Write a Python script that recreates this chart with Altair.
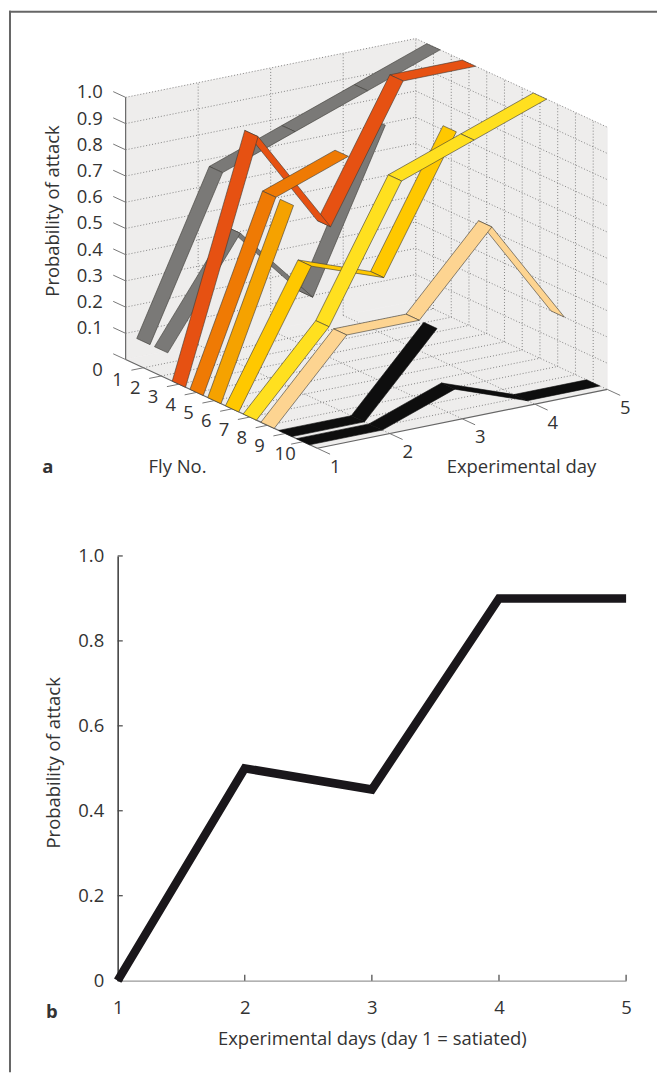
import altair as alt
import pandas as pd

# ---------- data ----------
fly_numbers = [1, 2, 3, 4, 5, 6, 7, 8, 9, 10]
days = [1, 2, 3, 4, 5]
fly_1 = [0.1, 0.7, 0.8, 0.9, 1.0]
fly_2 = [0.1, 0.5, 0.2, 0.8]
fly_3 = [0.0, 0.9, 0.5, 1.0, 1.0]
fly_4 = [0.0, 0.7, 0.8]
fly_5 = [0.0, 0.7]
fly_6 = [0.0, 0.5, 0.4, 0.9]
fly_7 = [0.0, 0.3, 0.8, 0.9, 1.0]
fly_8 = [0.0, 0.3, 0.3, 0.6, 0.2]
fly_9 = [0.0, 0.0, 0.3]
fly_10 = [0.0, 0.0, 0.1, 0.0, 0.0]
mean_attack = [0.0, 0.5, 0.45, 0.9, 0.9]
z_ticks = [0.0, 0.1, 0.2, 0.3, 0.4, 0.5, 0.6, 0.7, 0.8, 0.9, 1.0]
b_y_ticks = [0.0, 0.2, 0.4, 0.6, 0.8, 1.0]
series = [fly_1, fly_2, fly_3, fly_4, fly_5, fly_6, fly_7, fly_8, fly_9, fly_10]
colors = ["#7a7977", "#7a7977", "#e65112", "#ef7a04", "#f5a200", "#ffc800",
          "#ffe01f", "#fdd491", "#0e0e0e", "#0e0e0e"]
FONT = "Open Sans"
SIZE = 18.5
INK = "#333333"
FMAX = 10.8
RIBBON = 0.75


# orthographic projection of (fly, day, probability) to page position
def pt(f, d, z):
    return (125 + 17.8 * f + 72.75 * (d - 1), 358 + 8.24 * f - 14.75 * (d - 1) - 263 * z)


def poly(rows, pid, corners):
    for i, c in enumerate(list(corners) + [corners[0]]):
        x, y = pt(*c)
        rows.append({"x": x, "y": y, "pid": pid, "i": i})


X = alt.X("x:Q", scale=alt.Scale(domain=[8, 658], nice=False, zero=False), axis=None)
Y = alt.Y("y:Q", scale=alt.Scale(domain=[538, 8], nice=False, zero=False), axis=None)


def shapes(rows, **mark):
    return alt.Chart(pd.DataFrame(rows)).mark_line(**mark).encode(
        x=X, y=Y, detail="pid:N", order="i:Q")


# walls and floor
wall_rows = []
poly(wall_rows, "left", [(0, 1, 0), (0, 5, 0), (0, 5, 1), (0, 1, 1)])
poly(wall_rows, "right", [(0, 5, 0), (FMAX, 5, 0), (FMAX, 5, 1), (0, 5, 1)])
poly(wall_rows, "floor", [(0, 1, 0), (FMAX, 1, 0), (FMAX, 5, 0), (0, 5, 0)])
walls = shapes(wall_rows, fill="#eeedec", stroke="#eeedec", strokeWidth=0.5)

# dotted grid
grid_rows = []


def seg(rows, pid, a, b):
    for i, c in enumerate((a, b)):
        x, y = pt(*c)
        rows.append({"x": x, "y": y, "pid": pid, "i": i})


for z in z_ticks:
    if z > 0:
        seg(grid_rows, f"l{z}", (0, 1, z), (0, 5, z))
        seg(grid_rows, f"r{z}", (0, 5, z), (FMAX, 5, z))
for d in days[1:]:
    seg(grid_rows, f"lv{d}", (0, d, 0), (0, d, 1))
    seg(grid_rows, f"fd{d}", (0, d, 0), (FMAX, d, 0))
for f in fly_numbers:
    seg(grid_rows, f"rv{f}", (f, 5, 0), (f, 5, 1))
    seg(grid_rows, f"ff{f}", (f, 1, 0), (f, 5, 0))
grid = shapes(grid_rows, stroke="#6a6a6a", strokeWidth=0.8, strokeDash=[1, 2])

# axes and ticks
axis_rows = []
seg(axis_rows, "az", (0, 1, 0), (0, 1, 1))
seg(axis_rows, "af", (0, 1, 0), (FMAX, 1, 0))
seg(axis_rows, "ad", (FMAX, 1, 0), (FMAX, 5, 0))
tick_rows = []
for z in z_ticks:
    seg(tick_rows, f"tz{z}", (0, 1, z), (-0.7, 1, z))
for f in fly_numbers:
    seg(tick_rows, f"tf{f}", (f, 1, 0), (f, 0.835, 0))
for d in days:
    seg(tick_rows, f"td{d}", (FMAX, d, 0), (FMAX + 0.72, d, 0))
axes3d = shapes(axis_rows, stroke="#666666", strokeWidth=1.2)
ticks3d = shapes(tick_rows, stroke="#777777", strokeWidth=1)

# ribbons, far to near
ribbons = []
for f, vals, col in zip(fly_numbers, series, colors):
    rows = []
    for k in range(len(vals) - 2, -1, -1):
        d0, d1 = days[k], days[k + 1]
        poly(rows, f"{k:02d}", [(f - RIBBON / 2, d0, vals[k]), (f + RIBBON / 2, d0, vals[k]),
                                (f + RIBBON / 2, d1, vals[k + 1]), (f - RIBBON / 2, d1, vals[k + 1])])
    ribbons.append(shapes(rows, fill=col, stroke="#3c3a36" if col != "#0e0e0e" else col,
                          strokeWidth=0.6, strokeJoin="round"))


# text labels
def texts(rows, **mark):
    return alt.Chart(pd.DataFrame(rows)).mark_text(font=FONT, fontSize=SIZE, color=INK, **mark).encode(
        x=X, y=Y, text="t:N")


z_rows = []
for z in z_ticks:
    x, y = pt(0, 1, z)
    z_rows.append({"x": x - 23, "y": y + (10 if z == 0 else -5),
                   "t": "0" if z == 0 else f"{z:.1f}"})
fly_rows = []
for f in fly_numbers:
    x, y = pt(f, 1, 0)
    fly_rows.append({"x": x - (18 if f == 10 else 26), "y": y + 12.5, "t": str(f)})
day_rows = []
for d in days:
    x, y = pt(FMAX, d, 0)
    day_rows.append({"x": x + 18, "y": y + 18.5, "t": str(d)})
title_rows = [{"x": 177, "y": 466, "t": "Fly No."},
              {"x": 522, "y": 466, "t": "Experimental day"}]
label_z = texts(z_rows, align="right", baseline="middle")
label_f = texts(fly_rows, align="center", baseline="middle")
label_d = texts(day_rows, align="center", baseline="middle")
label_t = texts(title_rows, align="center", baseline="middle")
label_y = texts([{"x": 52, "y": 209, "t": "Probability of attack"}], align="center",
                baseline="middle", angle=270)
label_a = texts([{"x": 47, "y": 466, "t": "a"}], align="center", baseline="middle", fontWeight="bold")

frame_top = alt.Chart().mark_rule(color="#666666", strokeWidth=2).encode(
    x=alt.value(0), x2=alt.value(650), y=alt.value(1))
frame_left = alt.Chart().mark_rule(color="#666666", strokeWidth=2).encode(
    x=alt.value(1), y=alt.value(0), y2=alt.value(1065))

top = alt.layer(walls, grid, axes3d, ticks3d, *ribbons, label_z, label_f, label_d, label_t,
                label_y, label_a, frame_top, frame_left).properties(width=650, height=530)

# ---------- panel b ----------
b = pd.DataFrame({"day": days, "p": mean_attack})
XB = alt.X("day:Q", scale=alt.Scale(domain=[1, 5], range=[109, 619], nice=False, zero=False),
           axis=alt.Axis(values=days, format="d", offset=-92, tickSize=0, labelPadding=18, labelFlush=False,
                         labelFont=FONT, labelFontSize=SIZE, labelColor=INK, domainColor="#999999",
                         domainWidth=1.2, grid=False, title="Experimental days (day 1 = satiated)",
                         titleFont=FONT, titleFontSize=SIZE, titleFontWeight="normal", titleColor=INK,
                         titlePadding=13))
YB = alt.Y("p:Q", scale=alt.Scale(domain=[0, 1], range=[443, 17], nice=False, zero=False),
           axis=alt.Axis(values=b_y_ticks, labelExpr="datum.value == 0 ? '0' : format(datum.value, '.1f')",
                         offset=-109, tickSize=0, labelPadding=14, labelFont=FONT, labelFontSize=SIZE,
                         labelColor=INK, domainColor="#444444", domainWidth=1.6, grid=False, labelFlush=False,
                         title="Probability of attack", titleFont=FONT, titleFontSize=SIZE,
                         titleFontWeight="normal", titleColor=INK, titlePadding=14, titleY=224))
line_b = alt.Chart(b).mark_line(color="#1a171b", strokeWidth=8.5, strokeJoin="miter", strokeCap="butt").encode(
    x=XB, y=YB, order="day:Q")
xt = pd.DataFrame({"day": days, "p": [0.0] * 5, "p2": [0.014] * 5})
yt = pd.DataFrame({"day": [1.0] * 6, "d2": [1.04] * 6, "p": b_y_ticks})
ticks_x = alt.Chart(xt).mark_rule(color="#444444", strokeWidth=1.2).encode(x=XB, y=YB, y2="p2:Q")
ticks_y = alt.Chart(yt).mark_rule(color="#444444", strokeWidth=1.2).encode(x=XB, x2="d2:Q", y=YB)
label_b = alt.Chart(pd.DataFrame({"t": ["b"]})).mark_text(
    font=FONT, fontSize=SIZE, fontWeight="bold", color=INK).encode(
    x=alt.value(43), y=alt.value(474), text="t:N")
bottom = alt.layer(ticks_x, ticks_y, line_b, label_b).properties(width=650, height=535)

chart = alt.vconcat(top, bottom, spacing=0, bounds="flush").properties(padding=0).configure_view(stroke=None)
chart.save("out.html", embed_options={"renderer": "svg", "actions": False})
